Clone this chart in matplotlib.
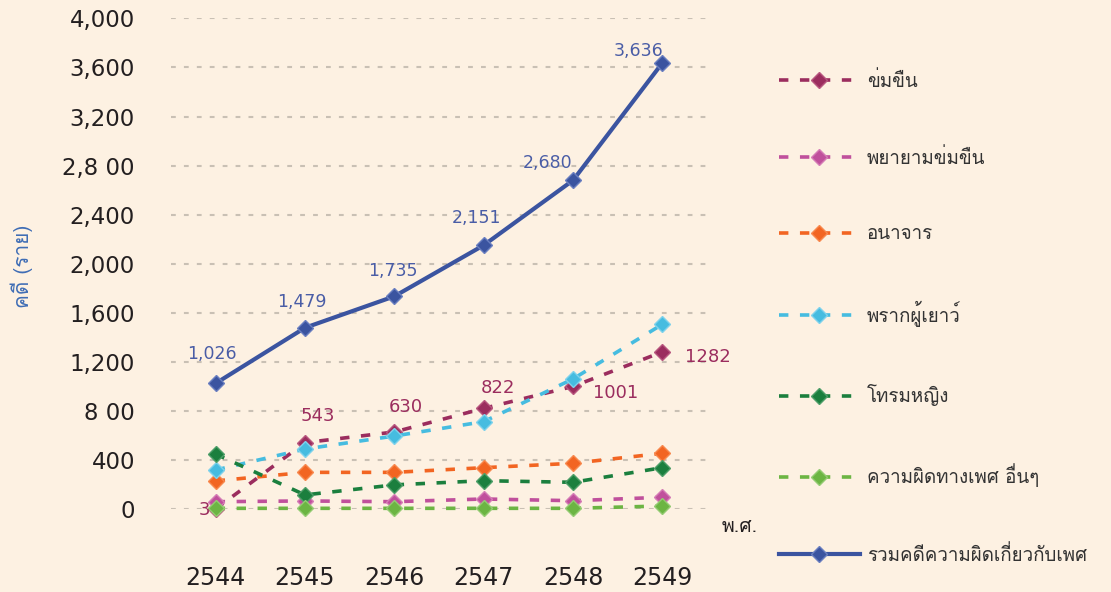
import matplotlib
matplotlib.use("Agg")
import matplotlib.pyplot as plt
from matplotlib import font_manager, ft2font
import numpy as np

years = ["2544", "2545", "2546", "2547", "2548", "2549"]

rape = [3, 543, 630, 822, 1001, 1282]
attempted_rape = [62, 68, 62, 84, 70, 98]
indecency = [231, 301, 301, 339, 375, 456]
abduction_minor = [320, 491, 597, 714, 1062, 1507]
gang_rape = [450, 117, 199, 233, 220, 339]
other_sex = [8, 8, 8, 8, 8, 27]
total = [1026, 1479, 1735, 2151, 2680, 3636]

rape_labels = ["3", "543", "630", "822", "1001", "1282"]
total_labels = ["1,026", "1,479", "1,735", "2,151", "2,680", "3,636"]

series_names = [
    "ข่มขืน",
    "พยายามข่มขืน",
    "อนาจาร",
    "พรากผู้เยาว์",
    "โทรมหญิง",
    "ความผิดทางเพศ อื่นๆ",
    "รวมคดีความผิดเกี่ยวกับเพศ",
]
ytick_labels = ["0", "400", "8 00", "1,200", "1,600", "2,000", "2,400", "2,8 00", "3,200", "3,600", "4,000"]
yticks = [0, 400, 800, 1200, 1600, 2000, 2400, 2800, 3200, 3600, 4000]


def find_thai_font():
    seen = set()
    for f in font_manager.fontManager.ttflist:
        if f.fname in seen:
            continue
        seen.add(f.fname)
        try:
            cmap = ft2font.FT2Font(f.fname).get_charmap()
        except Exception:
            continue
        if 0x0E01 in cmap and 0x0E35 in cmap and 0x0E48 in cmap:
            return f.name
    return None


thai = find_thai_font()
thai_family = [thai, "DejaVu Sans"] if thai else ["DejaVu Sans"]

bg = "#FDF1E2"
colors = ["#9B2D5E", "#C0509C", "#F26522", "#46BCE0", "#1B7F3E", "#6CB543"]
edge = ["#B8577F", "#D57DB6", "#F7894F", "#7FD2EC", "#4E9E69", "#94CB73"]
total_color = "#3B54A0"

fig = plt.figure(figsize=(11.11, 5.92), dpi=100, facecolor=bg)
ax = fig.add_axes([171 / 1111, 1 - 509.3 / 592, 536 / 1111, 491 / 592])
ax.set_facecolor(bg)

x = np.arange(len(years))
dash_series = [rape, attempted_rape, indecency, abduction_minor, gang_rape, other_sex]
for vals, name, c, ec in zip(dash_series, series_names[:6], colors, edge):
    ax.plot(x, vals, color=c, lw=2.6, dashes=(2.6, 3.2), marker="D", markersize=8,
            markerfacecolor=c, markeredgecolor=ec, markeredgewidth=1.0,
            label=name, clip_on=False, zorder=3)

ax.plot(x, total, color=total_color, lw=3.0, marker="D", markersize=8,
        markerfacecolor=total_color, markeredgecolor="#6A7FC0", markeredgewidth=1.0,
        label=series_names[6], clip_on=False, zorder=4)

# data labels
total_off = [(-3, 15), (-2, 12), (-1, 12), (-5, 13), (-18, 6), (-17, 2)]
for xi, v, lab, off in zip(x, total, total_labels, total_off):
    ax.annotate(lab, (xi, v), xytext=off, textcoords="offset points", ha="center",
                va="bottom", fontsize=12.5, color="#4A5DA6", zorder=5)

rape_off = [(-8, -1), (9, 19), (8, 18), (10, 15), (31, -5), (33, -4)]
for xi, v, lab, off in zip(x, rape, rape_labels, rape_off):
    ax.annotate(lab, (xi, v), xytext=off, textcoords="offset points", ha="center",
                va="center", fontsize=13, color="#9B2D5E", zorder=5)

ax.set_xlim(-0.5, 5.5)
ax.set_ylim(0, 4000)
ax.set_yticks(yticks)
ax.set_yticklabels(ytick_labels, fontsize=16.5, color="#231F20")
ax.set_xticks(x)
ax.set_xticklabels(years, fontsize=17, color="#231F20")
ax.tick_params(axis="y", length=0, pad=26)
ax.tick_params(axis="x", length=0, pad=41)
ax.grid(axis="y", color="#C9C0B4", lw=1.5, dashes=(2.3, 3.9))
ax.set_axisbelow(True)
for s in ax.spines.values():
    s.set_visible(False)

fig.text(22 / 1111, 1 - 266 / 592, "คดี (ราย)", rotation=90, ha="center", va="center",
         fontsize=15, color="#3F6DB5", family=thai_family)
fig.text(740 / 1111, 1 - 527 / 592, "พ.ศ.", ha="center", va="center",
         fontsize=14, color="#231F20", family=thai_family)

leg = ax.legend(loc="upper left", bbox_to_anchor=(762 / 1111, 1 - 54 / 592),
                bbox_transform=fig.transFigure, frameon=False, handlelength=4.3,
                labelspacing=3.06, handletextpad=0.4,
                prop=font_manager.FontProperties(family=thai_family, size=13.5))
for t in leg.get_texts():
    t.set_color("#333333")

fig.savefig("out.png", dpi=100, facecolor=bg)
